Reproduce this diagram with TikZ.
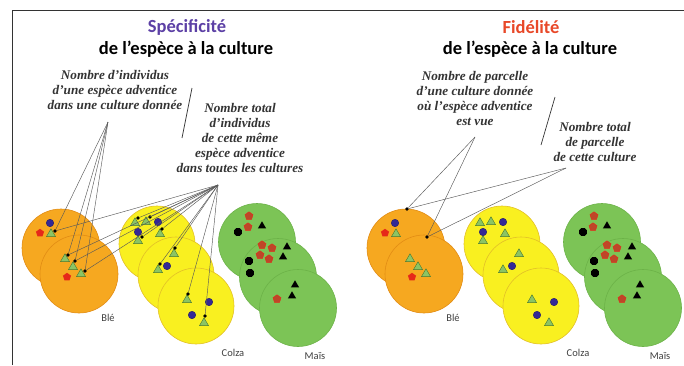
\documentclass[tikz,border=0pt]{standalone}
\usepackage{fontspec}
\setmainfont{Liberation Serif}
\newfontfamily\calib{Carlito}
\usetikzlibrary{positioning,shapes.geometric}
\definecolor{ble}{RGB}{246,168,32}
\definecolor{bleD}{RGB}{226,140,20}
\definecolor{colza}{RGB}{249,240,32}
\definecolor{colzaD}{RGB}{226,192,40}
\definecolor{mais}{RGB}{124,196,86}
\definecolor{maisD}{RGB}{108,178,72}
\definecolor{weedBlue}{RGB}{52,40,150}
\definecolor{weedRed}{RGB}{230,40,25}
\definecolor{weedBrown}{RGB}{190,70,40}
\definecolor{weedGreen}{RGB}{140,196,100}
\definecolor{weedGreenD}{RGB}{70,120,50}
\definecolor{specCol}{RGB}{92,64,165}
\definecolor{fidCol}{RGB}{232,72,40}
\tikzset{plot/.style={circle,inner sep=0,line width=0.6pt},
		plotBle/.style={plot,fill=ble,draw=bleD,minimum size=78pt},
		plotColza/.style={plot,fill=colza,draw=colzaD,minimum size=76pt},
		plotMais/.style={plot,fill=mais,draw=maisD,minimum size=77pt},
		weedB/.style={circle,fill=weedBlue,draw=weedBlue!70!black,minimum size=7.5pt,inner sep=0},
		weedR/.style={regular polygon,regular polygon sides=5,fill=weedRed,minimum size=8.5pt,inner sep=0},
		weedM/.style={weedR,fill=weedBrown,draw=weedRed,line width=0.4pt},
		weedG/.style={regular polygon,regular polygon sides=3,fill=weedGreen,draw=weedGreenD,line width=0.4pt,minimum size=10.5pt,inner sep=0},
		weedK/.style={regular polygon,regular polygon sides=3,fill=black,minimum size=9.5pt,inner sep=0},
		weedO/.style={regular polygon,regular polygon sides=8,fill=black,minimum size=8.5pt,inner sep=0},
		pin/.style={circle,fill=black,minimum size=3.6pt,inner sep=0},
		link/.style={draw=black!65,line width=0.45pt},
		title/.style={font=\calib\bfseries\fontsize{18.5}{22}\selectfont},
		note/.style={align=center,text=black!80,font=\bfseries\itshape\fontsize{13.2}{15}\selectfont},
		crop/.style={font=\calib\fontsize{10.5}{12}\selectfont,text=black!75}}

% the three cultures, #1 = prefix, #2 = shift
\newcommand{\parcelles}[2]{%
	\begin{scope}[xshift=#2]
		\node at (61,248) [plotBle] (#1ble1){};
		\node at (79,274) [plotBle] (#1ble2){};
		\node at (157,244) [plotColza] (#1col1){};
		\node at (176,275) [plotColza] (#1col2){};
		\node at (196,306) [plotColza] (#1col3){};
		\node at (257,242) [plotMais] (#1mai1){};
		\node at (278,277) [plotMais] (#1mai2){};
		\node at (298,308) [plotMais] (#1mai3){};
		%ble
		\node at (50,223) [weedB] (#1b1){};
		\node at (40,233) [weedR] (#1b2){};
		\node at (51,234) [weedG] (#1b3){};
		\node at (65,259) [weedG] (#1b4){};
		\node at (73,267) [weedG] (#1b5){};
		\node at (81,274) [weedG] (#1b6){};
		\node at (67,277) [weedR] (#1b7){};
		%colza
		\node at (135,223) [weedG] (#1c1){};
		\node at (146,222) [weedG] (#1c2){};
		\node at (158,222) [weedB] (#1c3){};
		\node at (138,232) [weedB] (#1c4){};
		\node at (138,241) [weedG] (#1c5){};
		\node at (160,234) [weedG] (#1c6){};
		\node at (174,254) [weedG] (#1c7){};
		\node at (158,270) [weedG] (#1c8){};
		\node at (167,266) [weedB] (#1c9){};
		\node at (187,300) [weedG] (#1c10){};
		\node at (209,302) [weedB] (#1c11){};
		\node at (192,315) [weedB] (#1c12){};
		\node at (204,323) [weedG] (#1c13){};
		%mais
		\node at (249,216) [weedM] (#1m1){};
		\node at (248,227) [weedM] (#1m2){};
		\node at (262,226) [weedK] (#1m3){};
		\node at (238,232) [weedO] (#1m4){};
		\node at (262,245) [weedM] (#1m5){};
		\node at (272,248) [weedM] (#1m6){};
		\node at (260,255) [weedM] (#1m7){};
		\node at (269,259) [weedM] (#1m8){};
		\node at (287,247) [weedK] (#1m9){};
		\node at (283,257) [weedK] (#1m10){};
		\node at (249,261) [weedO] (#1m11){};
		\node at (250,273) [weedO] (#1m12){};
		\node at (295,285) [weedK] (#1m13){};
		\node at (292,296) [weedK] (#1m14){};
		\node at (277,299) [weedM] (#1m15){};
		\node at (108,318) [crop] (#1lBle){Blé};
		\node at (233,353) [crop] (#1lCol){Colza};
		\node at (315,356) [crop] (#1lMai){Maïs};
	\end{scope}}

\begin{document}
\begin{tikzpicture}[x=1pt,y=-1pt]
	\useasboundingbox (0,0) rectangle (684,365);
	\draw[line width=0.8pt,black!80] (12,365) -- (12,10) -- (684,10);

	\parcelles{A}{0pt}
	\parcelles{B}{345pt}

	% Specificite
	\node at (187,27) [title,text=specCol] (titA){Spécificité};
	\node at (186,49) [title] (subA){de l’espèce à la culture};
	\node at (115,90) [note] (indA){Nombre d’individus\\d’une espèce adventice\\dans une culture donnée};
	\node at (240,138) [note] (totA){Nombre total\\d’individus\\de cette même\\espèce adventice\\dans toutes les cultures};
	\draw[line width=0.7pt,black!80] (192,88) -- (182,138);
	\coordinate (nA) at (108,122);
	\coordinate (nT) at (218,185);

	\node at (55,231) [pin] (pA1){};
	\node at (68,255) [pin] (pA2){};
	\node at (75,261) [pin] (pA3){};
	\node at (85,271) [pin] (pA4){};
	\node at (138,218) [pin] (pA5){};
	\node at (150,217) [pin] (pA6){};
	\node at (142,237) [pin] (pA7){};
	\node at (162,229) [pin] (pA8){};
	\node at (175,248) [pin] (pA9){};
	\node at (160,264) [pin] (pA10){};
	\node at (188,294) [pin] (pA11){};
	\node at (205,316) [pin] (pA12){};

	\draw (nA) edge[link] (pA1);
	\draw (nA) edge[link] (pA2);
	\draw (nA) edge[link] (pA3);
	\draw (nA) edge[link] (pA4);
	\draw (nT) edge[link] (pA1);
	\draw (nT) edge[link] (pA2);
	\draw (nT) edge[link] (pA3);
	\draw (nT) edge[link] (pA4);
	\draw (nT) edge[link] (pA5);
	\draw (nT) edge[link] (pA6);
	\draw (nT) edge[link] (pA7);
	\draw (nT) edge[link] (pA8);
	\draw (nT) edge[link] (pA9);
	\draw (nT) edge[link] (pA10);
	\draw (nT) edge[link] (pA11);
	\draw (nT) edge[link] (pA12);

	% Fidelite
	\node at (531,27) [title,text=fidCol] (titB){Fidélité};
	\node at (530,49) [title] (subB){de l’espèce à la culture};
	\node at (475,98) [note] (parB){Nombre de parcelle\\d’une culture donnée\\où l’espèce adventice\\est vue};
	\node at (595,142) [note] (totB){Nombre total\\de parcelle\\de cette culture};
	\draw[line width=0.7pt,black!80] (555,97) -- (541,145);
	\coordinate (nB) at (475,137);
	\coordinate (nC) at (566,168);

	\node at (407,209) [pin] (pB1){};
	\node at (427,237) [pin] (pB2){};
	\draw (nB) edge[link] (pB1);
	\draw (nB) edge[link] (pB2);
	\draw (nC) edge[link] (pB1);
	\draw (nC) edge[link] (pB2);
\end{tikzpicture}
\end{document}
